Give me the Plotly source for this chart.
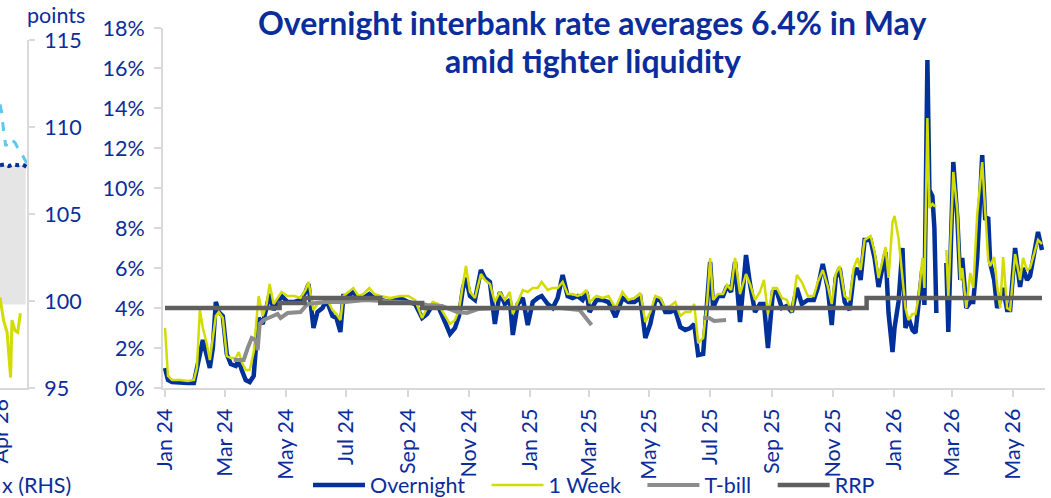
import plotly.graph_objects as go

# ---------------- data: main chart (percent) ----------------
dates = [
    "2024-01-01", "2024-01-04", "2024-01-08", "2024-01-16", "2024-01-24", "2024-01-30",
    "2024-02-02", "2024-02-05", "2024-02-08", "2024-02-12", "2024-02-15", "2024-02-18",
    "2024-02-21", "2024-02-24", "2024-02-28", "2024-03-03", "2024-03-07", "2024-03-12",
    "2024-03-15", "2024-03-18", "2024-03-22", "2024-03-26", "2024-03-30", "2024-04-02",
    "2024-04-04", "2024-04-08", "2024-04-12", "2024-04-15", "2024-04-19", "2024-04-23",
    "2024-04-27", "2024-05-03", "2024-05-10", "2024-05-16", "2024-05-21", "2024-05-24",
    "2024-05-29", "2024-06-02", "2024-06-07", "2024-06-11", "2024-06-17", "2024-06-21",
    "2024-06-25", "2024-06-28", "2024-07-03", "2024-07-08", "2024-07-13", "2024-07-18",
    "2024-07-24", "2024-07-29", "2024-08-04", "2024-08-14", "2024-08-24", "2024-09-01",
    "2024-09-08", "2024-09-15", "2024-09-20", "2024-09-26", "2024-10-01", "2024-10-08",
    "2024-10-13", "2024-10-18", "2024-10-22", "2024-10-26", "2024-10-29", "2024-11-02",
    "2024-11-07", "2024-11-13", "2024-11-17", "2024-11-22", "2024-11-27", "2024-12-02",
    "2024-12-07", "2024-12-12", "2024-12-15", "2024-12-20", "2024-12-25", "2024-12-30",
    "2025-01-04", "2025-01-09", "2025-01-13", "2025-01-19", "2025-01-24", "2025-01-29",
    "2025-02-03", "2025-02-08", "2025-02-13", "2025-02-18", "2025-02-23", "2025-02-27",
    "2025-03-02", "2025-03-09", "2025-03-15", "2025-03-21", "2025-03-28", "2025-04-04",
    "2025-04-10", "2025-04-16", "2025-04-22", "2025-04-27", "2025-05-02", "2025-05-07",
    "2025-05-12", "2025-05-17", "2025-05-22", "2025-05-27", "2025-06-01", "2025-06-06",
    "2025-06-11", "2025-06-15", "2025-06-19", "2025-06-24", "2025-06-28", "2025-07-01",
    "2025-07-04", "2025-07-09", "2025-07-14", "2025-07-18", "2025-07-22", "2025-07-26",
    "2025-07-31", "2025-08-06", "2025-08-10", "2025-08-15", "2025-08-20", "2025-08-24",
    "2025-08-28", "2025-09-02", "2025-09-06", "2025-09-11", "2025-09-16", "2025-09-21",
    "2025-09-26", "2025-10-01", "2025-10-07", "2025-10-13", "2025-10-17", "2025-10-22",
    "2025-10-27", "2025-10-31", "2025-11-04", "2025-11-08", "2025-11-13", "2025-11-18",
    "2025-11-22", "2025-11-26", "2025-11-29", "2025-12-03", "2025-12-09", "2025-12-13",
    "2025-12-17", "2025-12-24", "2025-12-27", "2025-12-31", "2026-01-02", "2026-01-06",
    "2026-01-10", "2026-01-13", "2026-01-16", "2026-01-20", "2026-01-23", "2026-01-26",
    "2026-01-30", "2026-02-01", "2026-02-04", "2026-02-06", "2026-02-09", "2026-02-11",
    "2026-02-13", "2026-02-18", "2026-02-23", "2026-02-25", "2026-03-02", "2026-03-06",
    "2026-03-09", "2026-03-11", "2026-03-15", "2026-03-19", "2026-03-22", "2026-03-26",
    "2026-03-31", "2026-04-03", "2026-04-06", "2026-04-08", "2026-04-12", "2026-04-15",
    "2026-04-18", "2026-04-21", "2026-04-25", "2026-04-28", "2026-05-03", "2026-05-08",
    "2026-05-11", "2026-05-15", "2026-05-18", "2026-05-22", "2026-05-26", "2026-05-30",
]

overnight = [
    1.0, 0.4, 0.3, 0.25, 0.25, 0.25,
    1.0, 1.6, 2.4, 1.6, 1.0, 2.0,
    4.3, 3.8, 3.6, 1.7, 1.2, 1.1,
    1.4, 0.9, 0.4, 0.3, 0.6, 2.5,
    3.5, 3.2, 4.0, 4.7, 3.9, 4.3,
    4.6, 4.3, 4.3, 4.4, 4.8, 5.2,
    3.0, 3.8, 4.0, 4.4, 3.6, 3.5,
    2.8, 4.6, 4.6, 4.8, 4.5, 4.5,
    4.7, 4.5, 4.4, 4.3, 4.5, 4.3,
    4.2, 3.5, 3.7, 4.2, 4.1, 3.3,
    2.7, 3.0, 3.6, 5.0, 5.5, 4.6,
    4.4, 5.9, 5.5, 5.3, 3.2, 4.8,
    4.2, 4.4, 2.65, 4.2, 4.5, 3.15,
    4.3, 4.5, 4.6, 4.2, 4.0, 4.5,
    5.65, 4.6, 4.5, 4.6, 4.4, 4.8,
    3.8, 4.4, 4.4, 4.3, 3.55, 4.5,
    4.3, 4.3, 4.5, 2.5, 3.2, 4.4,
    4.4, 3.8, 3.8, 3.9, 3.05, 2.9,
    3.0, 3.2, 1.65, 1.7, 4.0, 6.3,
    4.0, 4.6, 4.6, 5.1, 4.8, 6.3,
    3.3, 6.65, 5.2, 3.8, 4.2, 4.2,
    2.0, 4.8, 4.8, 4.0, 4.1, 3.8,
    5.0, 4.2, 4.4, 4.4, 5.0, 6.2,
    5.0, 3.15, 5.5, 6.0, 4.3, 3.9,
    5.6, 6.0, 5.4, 7.4, 7.4, 6.5,
    5.05, 6.8, 3.75, 1.8, 3.0, 4.3,
    7.0, 3.0, 3.5, 2.9, 2.75, 4.0,
    6.0, 4.15, 16.4, 9.9, 9.6, 8.0,
    3.75, None, 6.25, 2.8, 11.3, 8.5,
    5.4, 6.5, 4.0, 4.3, 4.3, 6.5,
    11.65, 8.4, 8.55, 6.25, 5.4, 4.0,
    4.4, 5.0, 3.9, 3.9, 7.0, 5.05,
    6.0, 5.4, 5.6, 6.6, 7.8, 6.9,
]

one_week = [
    3.0, 0.6, 0.4, 0.4, 0.35, 0.4,
    1.0, 3.9, 3.0, 2.2, 1.4, 2.4,
    3.6, 3.8, 3.5, 1.6, 1.5, 1.5,
    1.8, 1.3, 0.9, 0.9, 1.8, 3.5,
    4.6, 3.6, 4.2, 5.2, 4.2, 4.5,
    4.8, 4.6, 4.6, 4.5, 4.9, 5.3,
    3.9, 4.2, 4.3, 4.5, 3.9, 3.7,
    3.4, 4.6, 4.8, 5.0, 4.6, 4.7,
    5.0, 4.7, 4.6, 4.5, 4.6, 4.6,
    4.4, 3.5, 4.0, 4.3, 4.2, 3.6,
    3.2, 3.4, 3.9, 5.2, 6.1, 4.8,
    4.5, 5.7, 5.4, 5.2, 4.3, 4.8,
    4.4, 4.8, 3.7, 4.3, 4.9, 4.8,
    5.0, 5.0, 5.3, 4.9, 5.0, 5.0,
    5.3, 4.7, 4.7, 4.6, 4.7, 4.9,
    4.3, 4.6, 4.5, 4.6, 4.0, 4.8,
    4.4, 4.5, 4.75, 3.3, 3.8, 4.6,
    4.5, 4.0, 4.1, 4.3, 3.6, 3.8,
    3.8, 4.2, 2.25, 2.5, 4.3, 6.5,
    4.4, 4.7, 4.7, 5.15, 4.9, 6.5,
    4.7, 5.7, 5.2, 4.4, 4.8, 5.4,
    3.7, 5.0, 5.0, 4.5, 4.4, 3.8,
    5.65, 5.3, 4.6, 4.6, 5.3, 5.9,
    5.1, 4.2, 5.7, 6.1, 4.6, 4.4,
    6.0, 6.5, 5.9, 7.4, 7.6, 6.8,
    5.5, 7.05, 5.5, 8.3, 8.6, 7.5,
    5.5, 4.0, 3.4, 3.7, 3.7, 4.5,
    6.5, 5.0, 13.5, 9.0, 9.2, 9.1,
    9.1, None, 6.9, 4.5, 10.8, 8.9,
    5.4, 6.0, 4.0, 5.75, 5.0, 8.7,
    11.3, 8.75, 6.4, 6.1, 6.55, 5.1,
    4.0, 6.55, 4.0, 3.9, 6.7, 5.4,
    6.5, 5.9, 6.0, 6.7, 7.4, 7.2,
]

tbill_dates = [
    "2024-03-10", "2024-03-20", "2024-03-24", "2024-03-28", "2024-04-01", "2024-04-03",
    "2024-04-05", "2024-04-09", "2024-04-16", "2024-04-23", "2024-04-26", "2024-05-03",
    "2024-05-16", "2024-05-23", "2024-06-10", "2024-06-30", "2024-07-20", "2024-08-10",
    "2024-08-25", "2024-09-10", "2024-09-20", "2024-10-05", "2024-10-20", "2024-10-30",
    "2024-11-10", "2024-12-01", "2025-01-01", "2025-02-01", "2025-02-20", "2025-02-26",
    "2025-03-04", "2025-04-01", "2025-06-24", "2025-06-30", "2025-07-05", "2025-07-12",
    "2025-07-17",
]
tbill = [
    1.4, 1.4, 2.0, 2.5, 2.4, 1.9,
    3.2, 3.4, 3.55, 3.7, 3.5, 3.75,
    3.8, 4.2, 4.3, 4.3, 4.4, 4.35,
    4.3, 4.25, 4.15, 4.1, 3.8, 3.75,
    3.95, 4.0, 4.0, 4.0, 3.9, 3.55,
    3.15, None, 3.5, 3.5, 3.35, 3.4,
    3.4,
]

rrp_dates = ["2024-01-01", "2024-04-25", "2024-05-20", "2024-08-04", "2024-09-15",
             "2025-12-05", "2026-05-30"]
rrp = [4.0, 4.25, 4.5, 4.25, 4.0, 4.5, 4.5]

# legend labels
names = ["Overnight", "1 Week", "T-bill", "RRP"]

# ---------------- data: left (cropped) panel, points ----------------
lp_band_dates = ["2026-03-31", "2026-05-28"]
lp_band_low = [99.8, 99.8]
lp_band_high = [107.8, 107.8]

lp_dotted_dates = ["2026-03-31", "2026-04-10", "2026-04-20", "2026-04-30",
                   "2026-05-10", "2026-05-20", "2026-05-31"]
lp_dotted = [107.8, 107.85, 107.75, 107.85, 107.8, 107.85, 107.7]

lp_dash_dates = ["2026-03-31", "2026-04-04", "2026-04-08", "2026-04-13", "2026-04-20",
                 "2026-04-27", "2026-05-04", "2026-05-10", "2026-05-16", "2026-05-23",
                 "2026-05-31"]
lp_dash = [111.3, 110.8, 109.8, 108.9, 109.3, 109.25, 109.1, 108.8, 108.6, 108.3, 107.9]

lp_yel_dates = ["2026-03-31", "2026-04-08", "2026-04-16", "2026-04-24", "2026-04-27",
                "2026-05-04", "2026-05-10", "2026-05-16"]
lp_yel = [100.2, 98.9, 98.2, 95.6, 98.9, 98.3, 98.2, 99.3]

lp_tick_label = "Apr 26"

# ---------------- styling ----------------
BLUE = "#00309a"
YELLOW = "#d2dc00"
TBILL = "#8c8c8c"
RRPC = "#5f5f5f"
TXT = "#0b2d9c"
AXIS = "#d9d9d9"
FONT = "Lato"
FS = 21.5
PAD = "\u00a0\u00a0\u00a0"

fig = go.Figure()

fig.add_trace(go.Scatter(x=dates, y=overnight, name=names[0] + PAD, mode="lines",
                         line=dict(color=BLUE, width=4.5), connectgaps=False))
fig.add_trace(go.Scatter(x=dates, y=one_week, name=names[1] + PAD, mode="lines",
                         line=dict(color=YELLOW, width=2.5), connectgaps=False))
fig.add_trace(go.Scatter(x=tbill_dates, y=tbill, name=names[2] + PAD, mode="lines",
                         line=dict(color=TBILL, width=4), connectgaps=False))
fig.add_trace(go.Scatter(x=rrp_dates, y=rrp, name=names[3], mode="lines",
                         line=dict(color=RRPC, width=4.5, shape="hv")))

# left cropped panel
fig.add_trace(go.Scatter(x=lp_band_dates, y=lp_band_low, xaxis="x2", yaxis="y2",
                         mode="lines", line=dict(width=0), showlegend=False))
fig.add_trace(go.Scatter(x=lp_band_dates, y=lp_band_high, xaxis="x2", yaxis="y2",
                         mode="lines", line=dict(width=0), fill="tonexty",
                         fillcolor="#e5e5e5", showlegend=False))
fig.add_trace(go.Scatter(x=lp_dash_dates, y=lp_dash, xaxis="x2", yaxis="y2",
                         mode="lines", line=dict(color="#5cc8f0", width=3, dash="dash"),
                         showlegend=False))
fig.add_trace(go.Scatter(x=lp_dotted_dates, y=lp_dotted, xaxis="x2", yaxis="y2",
                         mode="lines", line=dict(color=BLUE, width=4, dash="dot"),
                         showlegend=False))
fig.add_trace(go.Scatter(x=lp_yel_dates, y=lp_yel, xaxis="x2", yaxis="y2",
                         mode="lines", line=dict(color=YELLOW, width=3),
                         showlegend=False))

W, H = 1051, 498
L_PLOT, R_PLOT, T_PLOT, B_PLOT = 163, 1045, 28, 388
PH = B_PLOT - T_PLOT


def py(px):
    """pixel row -> paper y"""
    return (B_PLOT - px) / PH


fig.update_layout(
    width=W, height=H,
    margin=dict(l=0, r=0, t=T_PLOT, b=H - B_PLOT, pad=0, autoexpand=False),
    paper_bgcolor="white", plot_bgcolor="white",
    font=dict(family=FONT, size=FS, color=TXT),
    showlegend=True,
    legend=dict(orientation="h", x=308 / W, xanchor="left", y=py(485), yanchor="middle",
                font=dict(size=FS, color=TXT), itemwidth=52, traceorder="normal",
                bgcolor="rgba(0,0,0,0)", borderwidth=0),
    xaxis=dict(
        domain=[L_PLOT / W, R_PLOT / W], type="date", automargin=False,
        range=["2023-12-30", "2026-06-02"],
        tick0="2024-01-01", dtick="M2", tickformat="%b %y", tickangle=-90,
        ticks="outside", ticklen=7, tickwidth=2, tickcolor=AXIS,
        showline=True, linecolor=AXIS, linewidth=2, showgrid=False, zeroline=False,
        tickfont=dict(size=FS, color=TXT), ticklabelstandoff=3,
    ),
    yaxis=dict(
        domain=[0, 1], anchor="x", range=[0, 18], dtick=2, ticksuffix="%",
        automargin=False,
        ticks="outside", ticklen=7, tickwidth=2, tickcolor=AXIS,
        showline=True, linecolor=AXIS, linewidth=2, showgrid=False, zeroline=False,
        tickfont=dict(size=FS, color=TXT), ticklabelstandoff=5,
    ),
    xaxis2=dict(
        domain=[0, 27 / W], type="date", anchor="y2", automargin=False,
        range=["2026-03-31", "2026-05-31"], showticklabels=False,
        ticks="", showline=True, linecolor=AXIS, linewidth=2, showgrid=False,
        zeroline=False,
    ),
    yaxis2=dict(
        domain=[0, py(40)], anchor="x2", side="right", automargin=False,
        range=[95, 115], dtick=5,
        ticks="outside", ticklen=6, tickwidth=2, tickcolor=AXIS,
        showline=True, linecolor=AXIS, linewidth=2, showgrid=False, zeroline=False,
        tickfont=dict(size=FS, color=TXT), ticklabelstandoff=5,
    ),
    annotations=[
        dict(text="<b>Overnight interbank rate averages 6.4% in May</b>",
             x=592 / W, xref="paper", xanchor="center",
             y=py(22), yref="paper", yanchor="middle",
             showarrow=False, font=dict(size=32, color=TXT, family=FONT)),
        dict(text="<b>amid tighter liquidity</b>",
             x=593 / W, xref="paper", xanchor="center",
             y=py(60), yref="paper", yanchor="middle",
             showarrow=False, font=dict(size=32, color=TXT, family=FONT)),
        dict(text="points", x=56 / W, xref="paper", xanchor="center",
             y=py(15), yref="paper", yanchor="middle",
             showarrow=False, font=dict(size=FS, color=TXT)),
        dict(text="x (RHS)", x=0, xref="paper", xanchor="left",
             y=py(485), yref="paper", yanchor="middle",
             showarrow=False, font=dict(size=FS, color=TXT)),
        dict(text=lp_tick_label, x="2026-04-01", xref="x2", xanchor="center",
             y=py(431), yref="paper", yanchor="middle", textangle=-90,
             showarrow=False, font=dict(size=FS, color=TXT)),
    ],
)

# remove the browser's default page margin so the figure sits at the window's corner
fig.write_html("out.html", config={"displayModeBar": False},
               post_script="document.body.style.margin='0';")
